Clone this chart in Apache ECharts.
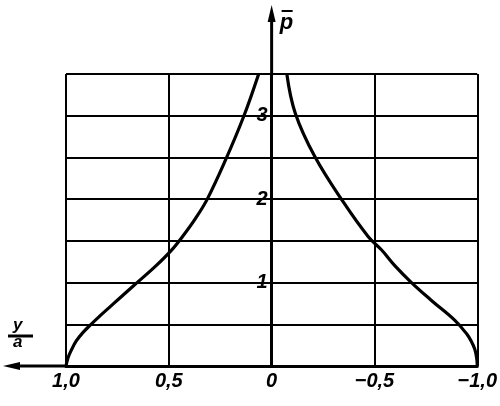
<!DOCTYPE html>
<html><head><meta charset="utf-8">
<script src="https://cdn.jsdelivr.net/npm/echarts@6/dist/echarts.min.js"></script>
<style>html,body{margin:0;padding:0;background:#fff}#c{width:500px;height:406px}</style>
</head><body><div id="c"></div>
<script>
const xTickValues = [1, 0.5, 0, -0.5, -1];
const xTickLabels = ['1,0', '0,5', '0', '\u22120,5', '\u22121,0'];
const yTickValues = [1, 2, 3];
const yTickLabels = ['1', '2', '3'];
const leftX = [1.0, 0.99, 0.972, 0.95, 0.918, 0.878, 0.835, 0.79, 0.745, 0.677, 0.563, 0.49, 0.434, 0.37, 0.313, 0.224, 0.136, 0.063];
const leftP = [0, 0.10, 0.20, 0.30, 0.40, 0.50, 0.60, 0.70, 0.80, 0.95, 1.20, 1.38, 1.55, 1.77, 2.00, 2.47, 2.99, 3.5];
const rightX = [-1.0, -0.997, -0.988, -0.97, -0.95, -0.89, -0.78, -0.68, -0.60, -0.535, -0.47, -0.35, -0.21, -0.115, -0.074];
const rightP = [0, 0.10, 0.20, 0.30, 0.38, 0.55, 0.78, 1.00, 1.20, 1.39, 1.55, 1.96, 2.51, 3.03, 3.5];

(function () {
const FONT = '"Liberation Sans Narrow", "Liberation Sans", sans-serif';
const chart = echarts.init(document.getElementById('c'), null, {renderer: 'canvas'});
const lineStyle = {color: '#000', width: 3.2};
chart.setOption({
  animation: false,
  backgroundColor: '#fff',
  grid: {left: 66, right: 19, top: 74, bottom: 40},
  xAxis: {
    type: 'value', inverse: true, min: -1, max: 1, interval: 0.5,
    axisLine: {onZero: true, lineStyle: {color: '#000', width: 3}},
    axisTick: {show: false},
    splitLine: {show: true, lineStyle: {color: '#000', width: 2}},
    axisLabel: {
      margin: 5, color: '#000', fontFamily: FONT, fontStyle: 'italic', fontWeight: 'bold', fontSize: 20,
      formatter: v => { const i = xTickValues.findIndex(t => Math.abs(t - v) < 1e-9); return i >= 0 ? xTickLabels[i] : ''; }
    }
  },
  yAxis: {
    type: 'value', min: 0, max: 3.5, interval: 0.5,
    axisLine: {onZero: false, lineStyle: {color: '#000', width: 3}},
    axisTick: {show: false},
    splitLine: {show: true, lineStyle: {color: '#000', width: 2}},
    axisLabel: {
      margin: 4, color: '#000', fontFamily: FONT, fontStyle: 'italic', fontWeight: 'bold', fontSize: 20,
      formatter: v => { const i = yTickValues.findIndex(t => Math.abs(t - v) < 1e-9); return i >= 0 ? yTickLabels[i] : ''; }
    }
  },
  series: [
    {type: 'line', data: leftX.map((x, i) => [x, leftP[i]]), showSymbol: false, smooth: 0.4, lineStyle, z: 5},
    {type: 'line', data: rightX.map((x, i) => [x, rightP[i]]), showSymbol: false, smooth: 0.4, lineStyle, z: 5}
  ]
});

const pTop = chart.convertToPixel({gridIndex: 0}, [0, 3.5]);
const pOrg = chart.convertToPixel({gridIndex: 0}, [0, 0]);
const pLft = chart.convertToPixel({gridIndex: 0}, [1, 0]);
const ax = pTop[0], ay = pTop[1];
const by = pOrg[1], bx = pLft[0];
chart.setOption({
  yAxis: {offset: -(ax - bx)},
  graphic: [
    {type: 'line', shape: {x1: ax, y1: ay, x2: ax, y2: 18}, style: {stroke: '#000', lineWidth: 3}},
    {type: 'polygon', shape: {points: [[ax, 5], [ax - 4, 22], [ax + 4, 22]]}, style: {fill: '#000'}},
    {type: 'line', shape: {x1: bx, y1: by, x2: 18, y2: by}, style: {stroke: '#000', lineWidth: 3}},
    {type: 'polygon', shape: {points: [[3, by], [20, by - 4], [20, by + 4]]}, style: {fill: '#000'}},
    {type: 'text', left: ax + 8, top: 12, style: {text: 'p', font: 'italic bold 22px ' + FONT, fill: '#000'}},
    {type: 'line', shape: {x1: ax + 10, y1: 11, x2: ax + 21, y2: 11}, style: {stroke: '#000', lineWidth: 2}},
    {type: 'text', left: 13, top: 317, style: {text: 'y', font: 'italic bold 17px ' + FONT, fill: '#000'}},
    {type: 'line', shape: {x1: 8, y1: 336, x2: 33, y2: 336}, style: {stroke: '#000', lineWidth: 3}},
    {type: 'text', left: 13, top: 334, style: {text: 'a', font: 'italic bold 17px ' + FONT, fill: '#000'}}
  ]
});
})();
</script></body></html>
